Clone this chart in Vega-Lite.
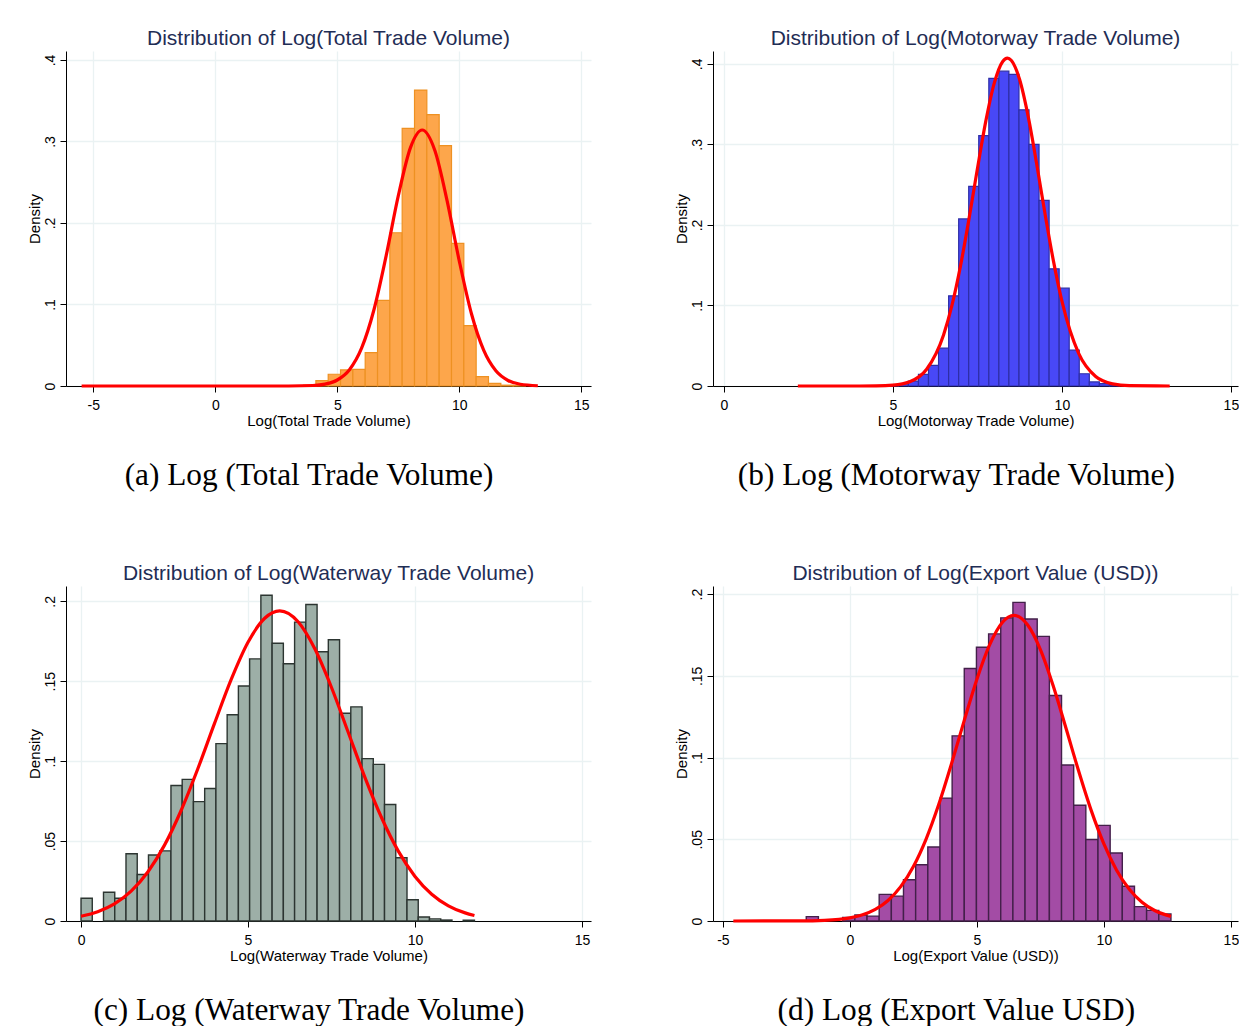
{
  "$schema": "https://vega.github.io/schema/vega-lite/v6.json",
  "background": "white",
  "padding": {"left": 27, "top": 27, "right": 0, "bottom": 0},
  "config": {
    "view": {"stroke": null},
    "font": "Liberation Sans",
    "axisX": {"tickSize": 6, "labelPadding": 6, "titlePadding": 1, "labelFontSize": 14, "titleFontSize": 15, "labelFont": "Liberation Sans", "titleFont": "Liberation Sans", "titleFontWeight": "normal", "labelColor": "#000", "titleColor": "#000", "domainColor": "#000", "tickColor": "#000", "gridColor": "#EAF2F3", "gridWidth": 1.3, "labelFlush": false, "labelOverlap": false, "labelExpr": "'' + datum.value"},
    "axisY": {"tickSize": 6, "labelPadding": 3, "titlePadding": 1, "labelFontSize": 14, "titleFontSize": 15, "labelFont": "Liberation Sans", "titleFont": "Liberation Sans", "titleFontWeight": "normal", "labelColor": "#000", "titleColor": "#000", "domainColor": "#000", "tickColor": "#000", "gridColor": "#EAF2F3", "gridWidth": 1.3, "labelAngle": 270, "labelAlign": "center", "labelBaseline": "bottom", "labelFlush": false, "labelOverlap": false, "titleAngle": 270, "titleBaseline": "bottom", "titleAlign": "center"},
    "concat": {"spacing": 0}
  },
  "vconcat": [
    {
      "hconcat": [
        {
          "title": {"text": "(a) Log (Total Trade Volume)", "orient": "bottom", "fontSize": 31.3, "font": "Liberation Serif", "fontWeight": "normal", "color": "#000", "offset": 32, "baseline": "top", "anchor": "middle"},
          "vconcat": [
            {
              "width": 525, "height": 335,
              "title": {"text": "Distribution of Log(Total Trade Volume)", "fontSize": 21, "font": "Liberation Sans", "fontWeight": "normal", "color": "#1F2D55", "frame": "group", "anchor": "middle", "offset": -18.7, "baseline": "bottom"},
              "layer": [
                {
                  "data": {"values": [
                    {"x": 3.617, "x_end": 4.123, "density": 0.001},
                    {"x": 4.123, "x_end": 4.628, "density": 0.0065},
                    {"x": 4.628, "x_end": 5.133, "density": 0.0144},
                    {"x": 5.133, "x_end": 5.639, "density": 0.0197},
                    {"x": 5.639, "x_end": 6.144, "density": 0.0205},
                    {"x": 6.144, "x_end": 6.650, "density": 0.041},
                    {"x": 6.650, "x_end": 7.155, "density": 0.105},
                    {"x": 7.155, "x_end": 7.660, "density": 0.188},
                    {"x": 7.660, "x_end": 8.166, "density": 0.316},
                    {"x": 8.166, "x_end": 8.671, "density": 0.363},
                    {"x": 8.671, "x_end": 9.177, "density": 0.333},
                    {"x": 9.177, "x_end": 9.682, "density": 0.295},
                    {"x": 9.682, "x_end": 10.187, "density": 0.175},
                    {"x": 10.187, "x_end": 10.693, "density": 0.074},
                    {"x": 10.693, "x_end": 11.198, "density": 0.0115},
                    {"x": 11.198, "x_end": 11.704, "density": 0.0033},
                    {"x": 11.704, "x_end": 12.209, "density": 0.001},
                    {"x": 12.209, "x_end": 12.714, "density": 0.0005}
                  ]},
                  "mark": {"type": "rect", "fill": "#FDA64B", "stroke": "#EE9122", "strokeWidth": 1.2},
                  "encoding": {
                    "x": {"field": "x", "type": "quantitative", "scale": {"domain": [-6.12, 15.4], "nice": false, "zero": false}, "axis": {"title": "Log(Total Trade Volume)", "values": [-5, 0, 5, 10, 15]}},
                    "x2": {"field": "x_end"},
                    "y": {"field": "density", "type": "quantitative", "scale": {"domain": [0, 0.411], "nice": false}, "axis": {"title": "Density", "values": [0, 0.1, 0.2, 0.3, 0.4], "labelExpr": "replace(format(datum.value, '.2~f'), '0.', '.')"}},
                    "y2": {"datum": 0}
                  }
                },
                {
                  "data": {"values": [
                    {"x": -5.48, "density": 0}, {"x": 2.0, "density": 0}, {"x": 3.0, "density": 0.00003},
                    {"x": 4.0, "density": 0.00062}, {"x": 4.5, "density": 0.00231}, {"x": 5.0, "density": 0.00736},
                    {"x": 5.5, "density": 0.02002}, {"x": 6.0, "density": 0.04669}, {"x": 6.5, "density": 0.0932},
                    {"x": 7.0, "density": 0.1593}, {"x": 7.5, "density": 0.2332}, {"x": 8.0, "density": 0.2925},
                    {"x": 8.48, "density": 0.3141}, {"x": 9.0, "density": 0.2889}, {"x": 9.5, "density": 0.2275},
                    {"x": 10.0, "density": 0.1535}, {"x": 10.5, "density": 0.0886}, {"x": 11.0, "density": 0.0439},
                    {"x": 11.5, "density": 0.01859}, {"x": 12.0, "density": 0.00674}, {"x": 12.5, "density": 0.0021},
                    {"x": 13.22, "density": 0.0003}
                  ]},
                  "mark": {"type": "line", "color": "#FF0000", "strokeWidth": 3.2, "interpolate": "monotone"},
                  "encoding": {"x": {"field": "x", "type": "quantitative"}, "y": {"field": "density", "type": "quantitative"}}
                }
              ]
            }
          ]
        },
        {
          "title": {"text": "(b) Log (Motorway Trade Volume)", "orient": "bottom", "fontSize": 31.3, "font": "Liberation Serif", "fontWeight": "normal", "color": "#000", "offset": 32, "baseline": "top", "anchor": "middle"},
          "vconcat": [
            {
              "width": 525, "height": 335,
              "title": {"text": "Distribution of Log(Motorway Trade Volume)", "fontSize": 21, "font": "Liberation Sans", "fontWeight": "normal", "color": "#1F2D55", "frame": "group", "anchor": "middle", "offset": -18.7, "baseline": "bottom"},
              "layer": [
                {
                  "data": {"values": [
                    {"x": 4.866, "x_end": 5.163, "density": 0.0015},
                    {"x": 5.163, "x_end": 5.460, "density": 0.003},
                    {"x": 5.460, "x_end": 5.758, "density": 0.006},
                    {"x": 5.758, "x_end": 6.055, "density": 0.0145},
                    {"x": 6.055, "x_end": 6.352, "density": 0.0255},
                    {"x": 6.352, "x_end": 6.650, "density": 0.047},
                    {"x": 6.650, "x_end": 6.947, "density": 0.112},
                    {"x": 6.947, "x_end": 7.244, "density": 0.2075},
                    {"x": 7.244, "x_end": 7.541, "density": 0.248},
                    {"x": 7.541, "x_end": 7.839, "density": 0.311},
                    {"x": 7.839, "x_end": 8.136, "density": 0.382},
                    {"x": 8.136, "x_end": 8.433, "density": 0.391},
                    {"x": 8.433, "x_end": 8.731, "density": 0.387},
                    {"x": 8.731, "x_end": 9.028, "density": 0.343},
                    {"x": 9.028, "x_end": 9.325, "density": 0.300},
                    {"x": 9.325, "x_end": 9.623, "density": 0.2305},
                    {"x": 9.623, "x_end": 9.920, "density": 0.1455},
                    {"x": 9.920, "x_end": 10.217, "density": 0.1215},
                    {"x": 10.217, "x_end": 10.514, "density": 0.0445},
                    {"x": 10.514, "x_end": 10.812, "density": 0.0152},
                    {"x": 10.812, "x_end": 11.109, "density": 0.005},
                    {"x": 11.109, "x_end": 11.406, "density": 0.003},
                    {"x": 11.406, "x_end": 11.704, "density": 0.001}
                  ]},
                  "mark": {"type": "rect", "fill": "#4848F6", "stroke": "#2E2EA6", "strokeWidth": 1.2},
                  "encoding": {
                    "x": {"field": "x", "type": "quantitative", "scale": {"domain": [-0.32, 15.21], "nice": false, "zero": false}, "axis": {"title": "Log(Motorway Trade Volume)", "values": [0, 5, 10, 15]}},
                    "x2": {"field": "x_end"},
                    "y": {"field": "density", "type": "quantitative", "scale": {"domain": [0, 0.416], "nice": false}, "axis": {"title": "Density", "values": [0, 0.1, 0.2, 0.3, 0.4], "labelExpr": "replace(format(datum.value, '.2~f'), '0.', '.')"}},
                    "y2": {"datum": 0}
                  }
                },
                {
                  "data": {"values": [
                    {"x": 2.19, "density": 0}, {"x": 4.0, "density": 0}, {"x": 4.5, "density": 0.00015},
                    {"x": 5.0, "density": 0.00103}, {"x": 5.5, "density": 0.00526}, {"x": 6.0, "density": 0.0208},
                    {"x": 6.5, "density": 0.0634}, {"x": 6.75, "density": 0.1004}, {"x": 7.0, "density": 0.1489},
                    {"x": 7.25, "density": 0.2069}, {"x": 7.5, "density": 0.2695}, {"x": 7.75, "density": 0.3289},
                    {"x": 8.0, "density": 0.3761}, {"x": 8.25, "density": 0.4030}, {"x": 8.39, "density": 0.4071},
                    {"x": 8.5, "density": 0.4045}, {"x": 8.75, "density": 0.3805}, {"x": 9.0, "density": 0.3354},
                    {"x": 9.25, "density": 0.277}, {"x": 9.5, "density": 0.2143}, {"x": 9.75, "density": 0.1554},
                    {"x": 10.0, "density": 0.1056}, {"x": 10.5, "density": 0.0401}, {"x": 11.0, "density": 0.01174},
                    {"x": 11.5, "density": 0.00265}, {"x": 12.0, "density": 0.00046}, {"x": 13.19, "density": 0}
                  ]},
                  "mark": {"type": "line", "color": "#FF0000", "strokeWidth": 3.2, "interpolate": "monotone"},
                  "encoding": {"x": {"field": "x", "type": "quantitative"}, "y": {"field": "density", "type": "quantitative"}}
                }
              ]
            }
          ]
        }
      ],
      "spacing": 82
    },
    {
      "hconcat": [
        {
          "title": {"text": "(c) Log (Waterway Trade Volume)", "orient": "bottom", "fontSize": 31.3, "font": "Liberation Serif", "fontWeight": "normal", "color": "#000", "offset": 32, "baseline": "top", "anchor": "middle"},
          "vconcat": [
            {
              "width": 525, "height": 335,
              "title": {"text": "Distribution of Log(Waterway Trade Volume)", "fontSize": 21, "font": "Liberation Sans", "fontWeight": "normal", "color": "#1F2D55", "frame": "group", "anchor": "middle", "offset": -18.7, "baseline": "bottom"},
              "layer": [
                {
                  "data": {"values": [
                    {"x": 0.0, "x_end": 0.3366, "density": 0.0142},
                    {"x": 0.6731, "x_end": 1.0097, "density": 0.018},
                    {"x": 1.0097, "x_end": 1.3463, "density": 0.0142},
                    {"x": 1.3463, "x_end": 1.6829, "density": 0.0421},
                    {"x": 1.6829, "x_end": 2.0194, "density": 0.0291},
                    {"x": 2.0194, "x_end": 2.356, "density": 0.0413},
                    {"x": 2.356, "x_end": 2.6926, "density": 0.0439},
                    {"x": 2.6926, "x_end": 3.0291, "density": 0.0848},
                    {"x": 3.0291, "x_end": 3.3657, "density": 0.0886},
                    {"x": 3.3657, "x_end": 3.7023, "density": 0.0747},
                    {"x": 3.7023, "x_end": 4.0389, "density": 0.0829},
                    {"x": 4.0389, "x_end": 4.3754, "density": 0.111},
                    {"x": 4.3754, "x_end": 4.712, "density": 0.129},
                    {"x": 4.712, "x_end": 5.0486, "density": 0.147},
                    {"x": 5.0486, "x_end": 5.3851, "density": 0.164},
                    {"x": 5.3851, "x_end": 5.7217, "density": 0.2038},
                    {"x": 5.7217, "x_end": 6.0583, "density": 0.1738},
                    {"x": 6.0583, "x_end": 6.3949, "density": 0.161},
                    {"x": 6.3949, "x_end": 6.7314, "density": 0.187},
                    {"x": 6.7314, "x_end": 7.068, "density": 0.198},
                    {"x": 7.068, "x_end": 7.4046, "density": 0.1685},
                    {"x": 7.4046, "x_end": 7.7411, "density": 0.176},
                    {"x": 7.7411, "x_end": 8.0777, "density": 0.130},
                    {"x": 8.0777, "x_end": 8.4143, "density": 0.134},
                    {"x": 8.4143, "x_end": 8.7509, "density": 0.1016},
                    {"x": 8.7509, "x_end": 9.0874, "density": 0.098},
                    {"x": 9.0874, "x_end": 9.424, "density": 0.0729},
                    {"x": 9.424, "x_end": 9.7606, "density": 0.0396},
                    {"x": 9.7606, "x_end": 10.0971, "density": 0.0133},
                    {"x": 10.0971, "x_end": 10.4337, "density": 0.0025},
                    {"x": 10.4337, "x_end": 10.7703, "density": 0.0013},
                    {"x": 10.7703, "x_end": 11.1069, "density": 0.0006},
                    {"x": 11.4434, "x_end": 11.78, "density": 0.0005}
                  ]},
                  "mark": {"type": "rect", "fill": "#9DAFA7", "stroke": "#2C3531", "strokeWidth": 1.4},
                  "encoding": {
                    "x": {"field": "x", "type": "quantitative", "scale": {"domain": [-0.45, 15.27], "nice": false, "zero": false}, "axis": {"title": "Log(Waterway Trade Volume)", "values": [0, 5, 10, 15]}},
                    "x2": {"field": "x_end"},
                    "y": {"field": "density", "type": "quantitative", "scale": {"domain": [0, 0.2096], "nice": false}, "axis": {"title": "Density", "values": [0, 0.05, 0.1, 0.15, 0.2], "labelExpr": "replace(format(datum.value, '.2~f'), '0.', '.')"}},
                    "y2": {"datum": 0}
                  }
                },
                {
                  "data": {"values": [
                    {"x": 0.0, "density": 0.00295}, {"x": 0.5, "density": 0.00578}, {"x": 1.0, "density": 0.01069},
                    {"x": 1.5, "density": 0.01865}, {"x": 2.0, "density": 0.03066}, {"x": 2.5, "density": 0.04748},
                    {"x": 3.0, "density": 0.0693}, {"x": 3.5, "density": 0.0954}, {"x": 4.0, "density": 0.1238},
                    {"x": 4.5, "density": 0.1513}, {"x": 5.0, "density": 0.1744}, {"x": 5.5, "density": 0.1894},
                    {"x": 5.95, "density": 0.1940}, {"x": 6.5, "density": 0.1872}, {"x": 7.0, "density": 0.1703},
                    {"x": 7.5, "density": 0.1461}, {"x": 8.0, "density": 0.1181}, {"x": 8.5, "density": 0.0899},
                    {"x": 9.0, "density": 0.0646}, {"x": 9.5, "density": 0.0437}, {"x": 10.0, "density": 0.0279},
                    {"x": 10.5, "density": 0.01677}, {"x": 11.0, "density": 0.00951}, {"x": 11.5, "density": 0.00508},
                    {"x": 11.78, "density": 0.00347}
                  ]},
                  "mark": {"type": "line", "color": "#FF0000", "strokeWidth": 3.2, "interpolate": "monotone"},
                  "encoding": {"x": {"field": "x", "type": "quantitative"}, "y": {"field": "density", "type": "quantitative"}}
                }
              ]
            }
          ]
        },
        {
          "title": {"text": "(d) Log (Export Value USD)", "orient": "bottom", "fontSize": 31.3, "font": "Liberation Serif", "fontWeight": "normal", "color": "#000", "offset": 32, "baseline": "top", "anchor": "middle"},
          "vconcat": [
            {
              "width": 525, "height": 335,
              "title": {"text": "Distribution of Log(Export Value (USD))", "fontSize": 21, "font": "Liberation Sans", "fontWeight": "normal", "color": "#1F2D55", "frame": "group", "anchor": "middle", "offset": -18.7, "baseline": "bottom"},
              "layer": [
                {
                  "data": {"values": [
                    {"x": -1.718, "x_end": -1.240, "density": 0.0027},
                    {"x": -0.283, "x_end": 0.196, "density": 0.0022},
                    {"x": 0.196, "x_end": 0.675, "density": 0.0037},
                    {"x": 0.675, "x_end": 1.153, "density": 0.003},
                    {"x": 1.153, "x_end": 1.632, "density": 0.0163},
                    {"x": 1.632, "x_end": 2.110, "density": 0.0152},
                    {"x": 2.110, "x_end": 2.589, "density": 0.0252},
                    {"x": 2.589, "x_end": 3.068, "density": 0.0344},
                    {"x": 3.068, "x_end": 3.546, "density": 0.0453},
                    {"x": 3.546, "x_end": 4.025, "density": 0.0752},
                    {"x": 4.025, "x_end": 4.503, "density": 0.1133},
                    {"x": 4.503, "x_end": 4.982, "density": 0.1545},
                    {"x": 4.982, "x_end": 5.461, "density": 0.1675},
                    {"x": 5.461, "x_end": 5.939, "density": 0.1757},
                    {"x": 5.939, "x_end": 6.418, "density": 0.1855},
                    {"x": 6.418, "x_end": 6.896, "density": 0.195},
                    {"x": 6.896, "x_end": 7.375, "density": 0.1848},
                    {"x": 7.375, "x_end": 7.854, "density": 0.1742},
                    {"x": 7.854, "x_end": 8.332, "density": 0.138},
                    {"x": 8.332, "x_end": 8.811, "density": 0.0955},
                    {"x": 8.811, "x_end": 9.289, "density": 0.0708},
                    {"x": 9.289, "x_end": 9.768, "density": 0.0499},
                    {"x": 9.768, "x_end": 10.247, "density": 0.0585},
                    {"x": 10.247, "x_end": 10.725, "density": 0.0416},
                    {"x": 10.725, "x_end": 11.204, "density": 0.0213},
                    {"x": 11.204, "x_end": 11.682, "density": 0.0088},
                    {"x": 11.682, "x_end": 12.161, "density": 0.0065},
                    {"x": 12.161, "x_end": 12.64, "density": 0.0043}
                  ]},
                  "mark": {"type": "rect", "fill": "#A34CA5", "stroke": "#43204A", "strokeWidth": 1.4},
                  "encoding": {
                    "x": {"field": "x", "type": "quantitative", "scale": {"domain": [-5.39, 15.28], "nice": false, "zero": false}, "axis": {"title": "Log(Export Value (USD))", "values": [-5, 0, 5, 10, 15]}},
                    "x2": {"field": "x_end"},
                    "y": {"field": "density", "type": "quantitative", "scale": {"domain": [0, 0.205], "nice": false}, "axis": {"title": "Density", "values": [0, 0.05, 0.1, 0.15, 0.2], "labelExpr": "replace(format(datum.value, '.2~f'), '0.', '.')"}},
                    "y2": {"datum": 0}
                  }
                },
                {
                  "data": {"values": [
                    {"x": -4.59, "density": 0}, {"x": -2.0, "density": 0.00007}, {"x": -1.0, "density": 0.00041},
                    {"x": 0.0, "density": 0.0019}, {"x": 0.5, "density": 0.00377}, {"x": 1.0, "density": 0.00706},
                    {"x": 1.5, "density": 0.01253}, {"x": 2.0, "density": 0.02102}, {"x": 2.5, "density": 0.03335},
                    {"x": 3.0, "density": 0.05016}, {"x": 3.5, "density": 0.0714}, {"x": 4.0, "density": 0.0962},
                    {"x": 4.5, "density": 0.1226}, {"x": 5.0, "density": 0.148}, {"x": 5.5, "density": 0.169},
                    {"x": 6.0, "density": 0.1827}, {"x": 6.46, "density": 0.1870}, {"x": 7.0, "density": 0.1811},
                    {"x": 7.5, "density": 0.1661}, {"x": 8.0, "density": 0.1441}, {"x": 8.5, "density": 0.1184},
                    {"x": 9.0, "density": 0.0921}, {"x": 9.5, "density": 0.0677}, {"x": 10.0, "density": 0.0472},
                    {"x": 10.5, "density": 0.0311}, {"x": 11.0, "density": 0.0194}, {"x": 11.5, "density": 0.01147},
                    {"x": 12.0, "density": 0.00641}, {"x": 12.64, "density": 0.00281}
                  ]},
                  "mark": {"type": "line", "color": "#FF0000", "strokeWidth": 3.2, "interpolate": "monotone"},
                  "encoding": {"x": {"field": "x", "type": "quantitative"}, "y": {"field": "density", "type": "quantitative"}}
                }
              ]
            }
          ]
        }
      ],
      "spacing": 82
    }
  ],
  "spacing": 70
}
